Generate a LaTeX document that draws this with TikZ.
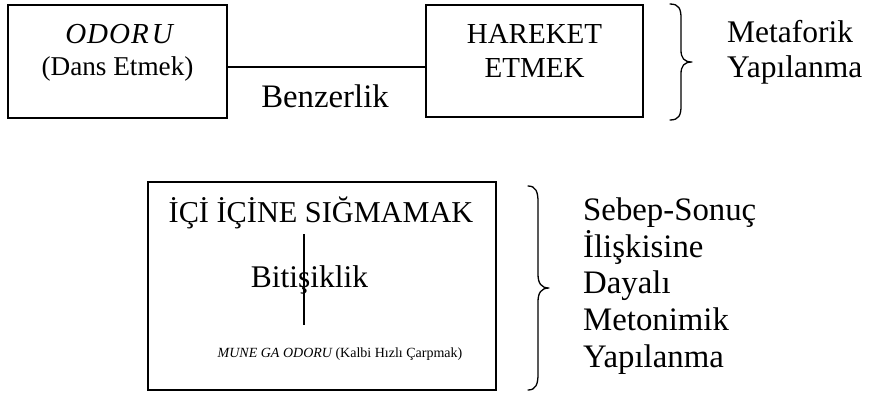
\documentclass[tikz,border=0pt]{standalone}
\usepackage{fontspec}
\setmainfont{Liberation Serif}
\begin{document}
\begin{tikzpicture}[x=1pt,y=-1pt,
  frame/.style={draw,line width=1.3pt,inner sep=0pt},
  big/.style={font=\fontsize{31.5}{37}\selectfont,inner sep=0pt},
  title/.style={font=\fontsize{30.3}{36}\selectfont,inner sep=0pt},
  large/.style={font=\fontsize{32.8}{38}\selectfont,inner sep=0pt},
  mid/.style={font=\fontsize{27.2}{33}\selectfont,inner sep=0pt},
  midb/.style={font=\fontsize{29}{34}\selectfont,inner sep=0pt},
  small/.style={font=\fontsize{14}{17}\selectfont,inner sep=0pt},
  rule/.style={line width=1.3pt},
  bracket/.style={line width=1.3pt,line cap=round,line join=round}]
\useasboundingbox (0,0) rectangle (873,392);

% upper row: metaphoric pairing
\node[frame,minimum width=219pt,minimum height=113pt] (box1) at (117.5,61.5) {};
\node[frame,minimum width=217pt,minimum height=112pt] (box2) at (534.5,61) {};
\node[midb,anchor=base] (odoru) at (119,43) {\itshape O\kern1pt D\kern1pt O\kern1pt R\kern3pt U};
\node[mid,anchor=base] (dans) at (117.5,75) {(Dans Etmek)};
\node[midb,anchor=base] (hareket) at (534.5,43) {HAREKET};
\node[midb,anchor=base] (etmek) at (534.5,77) {ETMEK};
\coordinate (linky) at (0,67);
\draw[rule] (box1.east |- linky) -- (box2.west |- linky);
\node[large,anchor=base] (benzer) at (325,107) {Benzerlik};

% brace and label for the upper row
\coordinate (b1top) at (670,4);
\coordinate (b1tip) at (692,62);
\coordinate (b1bot) at (670,120);
\draw[bracket] (b1top) .. controls (679,4) and (681,9) .. (681,18)
  -- (681,50) .. controls (681,58) and (684,62) .. (b1tip)
  .. controls (684,62) and (681,66) .. (681,74)
  -- (681,106) .. controls (681,115) and (679,120) .. (b1bot);
\node[big,anchor=base west] (meta1) at (727,42) {Metaforik};
\node[big,anchor=base west] (meta2) at (727,77) {Yapılanma};

% lower row: metonymic structure
\node[frame,minimum width=348pt,minimum height=208pt] (box3) at (322,286) {};
\node[title,anchor=base] (title) at (321,222) {İÇİ İÇİNE SIĞMAMAK};
\node[big,anchor=base] (bitis) at (309.5,287) {Bitişiklik};
\node[small,anchor=base] (mune) at (340,357) {\itshape MUNE GA ODORU\upshape{} (Kalbi Hızlı Çarpmak)};
\coordinate (vtop) at (304,234);
\coordinate (vbot) at (304,325);
\draw[rule] (vtop) -- (vbot);

% brace and label for the lower row
\coordinate (b2top) at (528,186);
\coordinate (b2tip) at (549,288);
\coordinate (b2bot) at (528,390);
\draw[bracket] (b2top) .. controls (536,186) and (538,192) .. (538,202)
  -- (538,274) .. controls (538,283) and (541,288) .. (b2tip)
  .. controls (541,288) and (538,293) .. (538,302)
  -- (538,374) .. controls (538,384) and (536,390) .. (b2bot);
\node[large,anchor=base west] (m1) at (583,220) {Sebep-Sonuç};
\node[large,anchor=base west] (m2) at (583,257) {İlişkisine};
\node[large,anchor=base west] (m3) at (583,293) {Dayalı};
\node[large,anchor=base west] (m4) at (583,330) {Metonimik};
\node[large,anchor=base west] (m5) at (583,367) {Yapılanma};
\end{tikzpicture}
\end{document}
